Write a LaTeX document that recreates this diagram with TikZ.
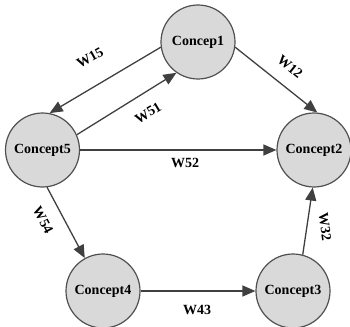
\documentclass[tikz,border=0pt]{standalone}
\usepackage{fontspec}
\setmainfont{Liberation Serif}
\usetikzlibrary{arrows.meta}
\definecolor{cfill}{HTML}{D9D9D9}
\definecolor{cline}{HTML}{505050}
\definecolor{aline}{HTML}{404040}
\begin{document}
\begin{tikzpicture}[x=1pt,y=-1pt,
  concept/.style={circle,draw=cline,fill=cfill,line width=1.2pt,minimum size=74pt,inner sep=0pt,font=\bfseries\fontsize{14}{16}\selectfont},
  arr/.style={draw=aline,line width=1.3pt,-{Triangle[length=13pt,width=11pt]},color=aline},
  wlab/.style={font=\bfseries\fontsize{14}{16}\selectfont,inner sep=1pt}]
\useasboundingbox (0,0) rectangle (350,326);
\node[concept] (c1) at (198,42) {Concep1};
\node[concept] (c5) at (42.5,150) {Concept5};
\node[concept] (c2) at (314,150) {Concept2};
\node[concept] (c4) at (103,291) {Concept4};
\node[concept] (c3) at (293,291) {Concept3};
\draw[arr] (c1.188) -- (c5.79);
\draw[arr] (c5.24) -- (c1.235);
\draw[arr] (c1.-8) -- (c2.85);
\draw[arr] (c5.east) -- (c2.west);
\draw[arr] (c5.277) -- (c4.119);
\draw[arr] (c4.east) -- (c3.west);
\draw[arr] (c3.75) -- (c2.268);
\node[wlab,rotate=29] (l15) at (90,58) {W15};
\node[wlab,rotate=31] (l51) at (148,113) {W51};
\node[wlab,rotate=-39] (l12) at (290,67) {W12};
\node[wlab] (l52) at (185,163) {W52};
\node[wlab,rotate=-62] (l54) at (43,220) {W54};
\node[wlab] (l43) at (197,310) {W43};
\node[wlab,rotate=-82] (l32) at (325,227) {W32};
\end{tikzpicture}
\end{document}
